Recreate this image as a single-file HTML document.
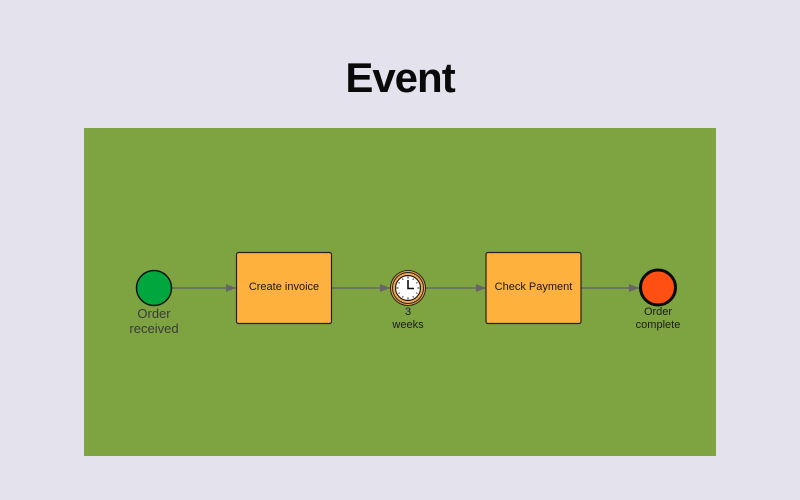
<!DOCTYPE html>
<html><head><meta charset="utf-8"><style>
html,body{margin:0;padding:0;width:800px;height:500px;background:#e4e3ed;overflow:hidden}
svg{display:block}
</style></head><body>
<svg width="800" height="500" viewBox="0 0 800 500" xmlns="http://www.w3.org/2000/svg">
<rect x="0" y="0" width="800" height="500" fill="#e4e3ed"/>
<text x="400" y="92" text-anchor="middle" font-family="Liberation Sans, Arial, sans-serif" font-weight="bold" font-size="42" letter-spacing="-1" fill="#0a0a0a">Event</text>
<rect x="84" y="128" width="632" height="328" fill="#7ea442"/>
<defs>
<marker id="ah" markerWidth="10" markerHeight="8" refX="10" refY="4" orient="auto" markerUnits="userSpaceOnUse">
<path d="M0,0 L10,4 L0,8 Z" fill="#666"/>
</marker>
</defs>
<g stroke="#666" stroke-width="1.5" fill="none">
<line x1="172" y1="288" x2="236" y2="288" marker-end="url(#ah)"/>
<line x1="332" y1="288" x2="390" y2="288" marker-end="url(#ah)"/>
<line x1="426" y1="288" x2="486" y2="288" marker-end="url(#ah)"/>
<line x1="581" y1="288" x2="639" y2="288" marker-end="url(#ah)"/>
</g>
<!-- start -->
<circle cx="154" cy="288" r="17.5" fill="#00a73e" stroke="#111" stroke-width="1.5"/>
<g font-family="Liberation Sans, Arial, sans-serif" font-size="13" fill="#3a3a3a" text-anchor="middle">
<text x="154" y="318">Order</text>
<text x="154" y="333">received</text>
</g>
<!-- tasks -->
<rect x="236.5" y="252.5" width="95" height="71" rx="2" fill="#ffb13d" stroke="#222" stroke-width="1.2"/>
<rect x="486" y="252.5" width="95" height="71" rx="2" fill="#ffb13d" stroke="#222" stroke-width="1.2"/>
<g font-family="Liberation Sans, Arial, sans-serif" font-size="11" fill="#1a1a1a" text-anchor="middle">
<text x="284" y="290">Create invoice</text>
<text x="533.5" y="290">Check Payment</text>
<text x="408" y="315">3</text>
<text x="408" y="328">weeks</text>
<text x="658" y="315">Order</text>
<text x="658" y="328">complete</text>
</g>
<!-- timer -->
<circle cx="408" cy="288" r="17.5" fill="#f5a94a" stroke="#222" stroke-width="1"/>
<circle cx="408" cy="288" r="15.5" fill="none" stroke="#222" stroke-width="1"/>
<circle cx="408" cy="288" r="12.5" fill="#fff" stroke="#222" stroke-width="1.2"/>
<g stroke="#222" stroke-width="1">
<line x1="408" y1="276.5" x2="408" y2="278.5"/>
<line x1="408" y1="297.5" x2="408" y2="299.5"/>
<line x1="396.5" y1="288" x2="398.5" y2="288"/>
<line x1="417.5" y1="288" x2="419.5" y2="288"/>
<line x1="413.5" y1="278.5" x2="412.8" y2="279.7"/>
<line x1="417.5" y1="282.5" x2="416.3" y2="283.2"/>
<line x1="417.5" y1="293.5" x2="416.3" y2="292.8"/>
<line x1="413.5" y1="297.5" x2="412.8" y2="296.3"/>
<line x1="402.5" y1="297.5" x2="403.2" y2="296.3"/>
<line x1="398.5" y1="293.5" x2="399.7" y2="292.8"/>
<line x1="398.5" y1="282.5" x2="399.7" y2="283.2"/>
<line x1="402.5" y1="278.5" x2="403.2" y2="279.7"/>
</g>
<polyline points="408,280 408,288.5 414,288.5" fill="none" stroke="#111" stroke-width="1.6"/>
<!-- end -->
<circle cx="658" cy="287.5" r="17.5" fill="#ff4f12" stroke="#0a0a0a" stroke-width="3"/>
</svg>
</body></html>
